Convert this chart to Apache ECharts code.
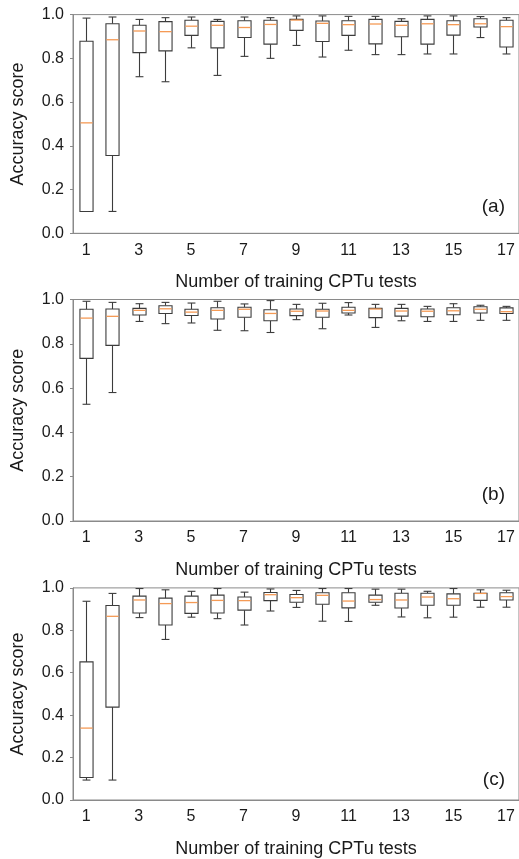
<!DOCTYPE html>
<html>
<head>
<meta charset="utf-8">
<script src="https://cdn.jsdelivr.net/npm/echarts@6/dist/echarts.min.js"></script>
<style>
  html, body { margin: 0; padding: 0; background: #fff; }
  #main { width: 519px; height: 859px; }
</style>
</head>
<body>
<div id="main"></div>
<script>
// number of training CPTu tests
const categories = ['1', '2', '3', '4', '5', '6', '7', '8', '9', '10', '11', '12', '13', '14', '15', '16', '17']
const yTicks = [0, 0.2, 0.4, 0.6, 0.8, 1.0]
const panelLabels = ['(a)', '(b)', '(c)']

// each row: [min, Q1, median, Q3, max]
const statsA = [
  [0.10, 0.10, 0.505, 0.878, 0.984],
  [0.10, 0.356, 0.885, 0.958, 0.989],
  [0.716, 0.826, 0.925, 0.951, 0.978],
  [0.693, 0.834, 0.922, 0.968, 0.986],
  [0.848, 0.905, 0.947, 0.974, 0.989],
  [0.722, 0.848, 0.951, 0.969, 0.978],
  [0.809, 0.895, 0.941, 0.972, 0.989],
  [0.800, 0.865, 0.955, 0.974, 0.986],
  [0.859, 0.928, 0.975, 0.978, 0.994],
  [0.806, 0.877, 0.960, 0.971, 0.994],
  [0.837, 0.905, 0.954, 0.972, 0.992],
  [0.817, 0.866, 0.957, 0.978, 0.992],
  [0.817, 0.899, 0.951, 0.969, 0.981],
  [0.820, 0.865, 0.958, 0.978, 0.994],
  [0.820, 0.906, 0.954, 0.972, 0.994],
  [0.895, 0.943, 0.958, 0.981, 0.991],
  [0.820, 0.852, 0.945, 0.974, 0.986]
]
const statsB = [
  [0.527, 0.734, 0.916, 0.956, 0.992],
  [0.580, 0.793, 0.924, 0.957, 0.987],
  [0.901, 0.930, 0.951, 0.960, 0.981],
  [0.891, 0.937, 0.958, 0.972, 0.987],
  [0.894, 0.928, 0.943, 0.956, 0.984],
  [0.861, 0.912, 0.951, 0.963, 0.992],
  [0.859, 0.920, 0.956, 0.965, 0.980],
  [0.851, 0.904, 0.937, 0.954, 0.995],
  [0.909, 0.927, 0.947, 0.957, 0.978],
  [0.868, 0.920, 0.948, 0.956, 0.983],
  [0.930, 0.939, 0.951, 0.965, 0.986],
  [0.874, 0.918, 0.957, 0.960, 0.978],
  [0.904, 0.925, 0.948, 0.960, 0.978],
  [0.901, 0.922, 0.947, 0.957, 0.969],
  [0.901, 0.931, 0.949, 0.963, 0.981],
  [0.906, 0.939, 0.956, 0.967, 0.974],
  [0.906, 0.937, 0.945, 0.962, 0.969]
]
const statsC = [
  [0.094, 0.106, 0.339, 0.651, 0.937],
  [0.094, 0.438, 0.866, 0.917, 0.974],
  [0.860, 0.882, 0.943, 0.961, 0.997],
  [0.757, 0.825, 0.926, 0.952, 0.991],
  [0.862, 0.880, 0.931, 0.961, 0.984],
  [0.855, 0.882, 0.941, 0.966, 0.997],
  [0.825, 0.895, 0.940, 0.957, 0.980],
  [0.891, 0.940, 0.968, 0.978, 0.995],
  [0.908, 0.932, 0.954, 0.969, 0.988],
  [0.843, 0.923, 0.965, 0.977, 0.997],
  [0.842, 0.906, 0.938, 0.977, 0.997],
  [0.918, 0.932, 0.945, 0.966, 0.994],
  [0.863, 0.905, 0.943, 0.975, 0.994],
  [0.859, 0.918, 0.957, 0.975, 0.984],
  [0.862, 0.918, 0.949, 0.972, 0.997],
  [0.909, 0.941, 0.974, 0.975, 0.991],
  [0.909, 0.943, 0.959, 0.977, 0.989]
]
const panels = [statsA, statsB, statsC]

const chart = echarts.init(document.getElementById('main'), null, { renderer: 'canvas' })

// 每个面板的绘图区位置
const gridPos = [
  { top: 14.6, height: 218.7 },
  { top: 299.5, height: 221.5 },
  { top: 587.9, height: 218.8 }
]
const axisColor = '#8a8a8a'
const textColor = '#1a1a1a'
const boxColor = '#3c3c3c'
const medianColor = '#f59a55'
const fontFamily = "'Liberation Sans', Arial, sans-serif"

// box + whiskers + orange median drawn through the axis scales
function renderBox (params, api) {
  const x = api.value(0)
  const lo = api.coord([x, api.value(1)])
  const q1 = api.coord([x, api.value(2)])
  const med = api.coord([x, api.value(3)])
  const q3 = api.coord([x, api.value(4)])
  const hi = api.coord([x, api.value(5)])
  const band = api.size([1, 0])[0]
  const bw = band * 0.5
  const cw = band * 0.3
  const cx = Math.round(lo[0]) + 0.5
  const line = { stroke: boxColor, lineWidth: 1.1 }
  const seg = (x1, y1, x2, y2, style) => ({ type: 'line', shape: { x1, y1, x2, y2 }, style })
  return {
    type: 'group',
    children: [
      seg(cx, hi[1], cx, q3[1], line),
      seg(cx, q1[1], cx, lo[1], line),
      seg(cx - cw / 2, hi[1], cx + cw / 2, hi[1], line),
      seg(cx - cw / 2, lo[1], cx + cw / 2, lo[1], line),
      {
        type: 'rect',
        shape: { x: cx - bw / 2, y: q3[1], width: bw, height: q1[1] - q3[1] },
        style: { fill: '#fff', stroke: boxColor, lineWidth: 1.1 }
      },
      seg(cx - bw / 2 + 0.5, med[1], cx + bw / 2 - 0.5, med[1], { stroke: medianColor, lineWidth: 1.3 })
    ]
  }
}

const grids = gridPos.map(g => ({
  left: 73, right: -1, top: g.top, height: g.height,
  show: true, borderColor: axisColor, borderWidth: 1, backgroundColor: 'transparent'
}))

const xAxes = panels.map((p, i) => ({
  type: 'category',
  gridIndex: i,
  data: categories,
  boundaryGap: true,
  name: 'Number of training CPTu tests',
  nameLocation: 'middle',
  nameGap: 40,
  nameTextStyle: { fontSize: 18, color: textColor, fontFamily },
  axisLine: { lineStyle: { color: axisColor, width: 1 } },
  axisTick: { alignWithLabel: true, interval: 0, length: 4, lineStyle: { color: axisColor } },
  axisLabel: { interval: 1, margin: 9, fontSize: 16, color: textColor, fontFamily }
}))

const yAxes = panels.map((p, i) => ({
  type: 'value',
  gridIndex: i,
  min: yTicks[0],
  max: yTicks[yTicks.length - 1],
  interval: 0.2,
  name: 'Accuracy score',
  nameLocation: 'middle',
  nameGap: 46,
  nameTextStyle: { fontSize: 18, color: textColor, fontFamily },
  axisLine: { show: true, lineStyle: { color: axisColor, width: 1 } },
  axisTick: { show: true, length: 3, lineStyle: { color: axisColor } },
  splitLine: { show: false },
  axisLabel: { margin: 9, fontSize: 16, color: textColor, fontFamily, formatter: v => v.toFixed(1) }
}))

const series = panels.map((stats, i) => ({
  type: 'custom',
  xAxisIndex: i,
  yAxisIndex: i,
  renderItem: renderBox,
  encode: { x: 0, y: [1, 2, 3, 4, 5] },
  data: stats.map((row, k) => [k].concat(row)),
  silent: true
}))

const labels = panelLabels.map((t, i) => ({
  type: 'text',
  right: 14,
  top: gridPos[i].top + gridPos[i].height - 36,
  style: { text: t, fill: textColor, font: '19px ' + fontFamily }
}))

chart.setOption({
  animation: false,
  grid: grids,
  xAxis: xAxes,
  yAxis: yAxes,
  series,
  graphic: labels
})
</script>
</body>
</html>
